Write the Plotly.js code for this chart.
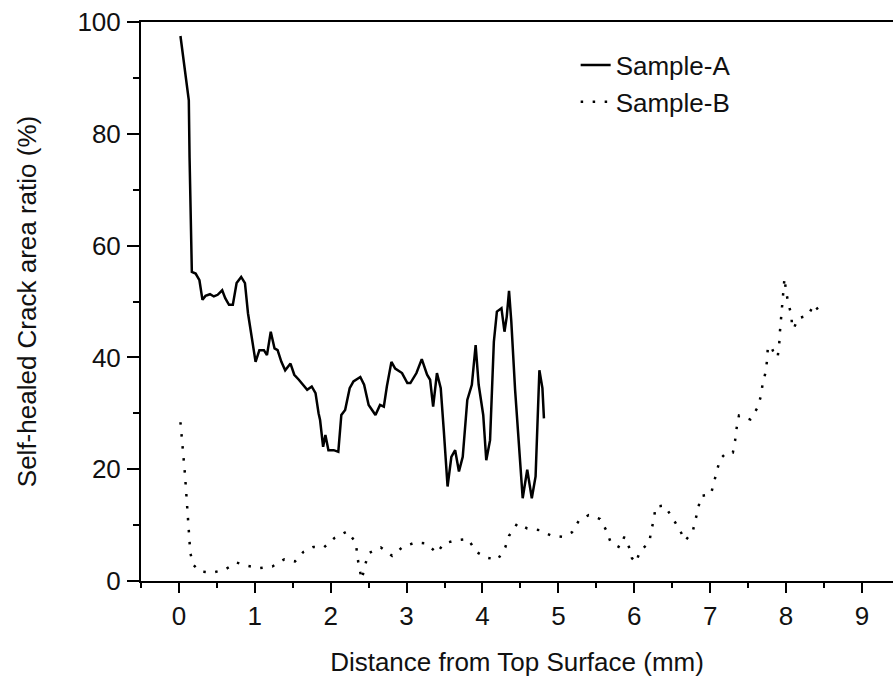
<!DOCTYPE html>
<html>
<head>
<meta charset="utf-8">
<script src="https://cdn.plot.ly/plotly-3.0.1.min.js"></script>
<style>html,body{margin:0;padding:0;background:#fff;}#chart{width:893px;height:682px;}</style>
</head>
<body>
<div id="chart"></div>
<script>
// Sample-A (solid)
const xA = [0.02,0.09,0.13,0.14,0.15,0.16,0.17,0.22,0.27,0.31,0.35,0.41,0.46,0.51,0.57,0.61,0.66,0.71,0.76,0.82,
  0.87,0.91,0.95,1.01,1.06,1.12,1.16,1.21,1.26,1.30,1.35,1.40,1.47,1.52,1.58,1.64,1.69,1.75,1.80,1.84,
  1.86,1.90,1.93,1.97,2.04,2.10,2.14,2.19,2.25,2.30,2.39,2.44,2.50,2.59,2.65,2.70,2.74,2.80,2.85,2.94,
  3.01,3.05,3.13,3.20,3.27,3.31,3.35,3.40,3.45,3.49,3.54,3.59,3.64,3.69,3.74,3.80,3.86,3.91,3.95,4.01,
  4.05,4.10,4.15,4.19,4.25,4.29,4.32,4.35,4.38,4.43,4.49,4.53,4.59,4.65,4.70,4.73,4.75,4.79,4.81];
const yA = [97.5,90.3,86,75.7,68,61.5,55.3,55,53.8,50.3,51,51.3,50.9,51.2,52,50.6,49.4,49.4,53.3,54.4,
  53.3,47.9,44.3,39.2,41.3,41.3,40.4,44.6,41.6,41.3,39.2,37.7,38.9,36.9,36,35.1,34.2,34.8,33.6,30,
  28.8,24,26.1,23.4,23.4,23.1,29.7,30.6,34.5,35.7,36.5,35.1,31.5,29.7,31.5,31.2,34.8,39.2,38,37.2,
  35.4,35.4,37.2,39.7,36.9,36,31.2,37.2,34.5,27,16.9,22.2,23.4,19.6,22.2,32.4,35.1,42.2,35.1,29.7,
  21.6,25.2,42.8,48.2,48.8,44.6,47.3,51.9,46.4,34.2,21.6,14.8,19.9,14.8,18.7,30.6,37.7,34.5,29.1];

// Sample-B (dotted)
const xB = [0.02,0.08,0.12,0.15,0.19,0.28,0.44,0.60,0.76,0.91,1.06,1.23,1.39,1.53,1.64,1.77,1.91,2.05,2.22,2.33,
  2.35,2.37,2.41,2.45,2.50,2.66,2.81,2.95,3.12,3.26,3.40,3.49,3.65,3.81,3.92,4.05,4.20,4.30,4.35,4.46,
  4.59,4.75,4.91,5.05,5.18,5.27,5.40,5.55,5.63,5.69,5.81,5.87,5.93,5.97,6.02,6.08,6.20,6.22,6.26,6.28,
  6.40,6.49,6.59,6.67,6.77,6.81,6.85,6.88,7.01,7.05,7.10,7.13,7.22,7.30,7.33,7.35,7.38,7.53,7.62,7.67,
  7.69,7.73,7.75,7.76,7.80,7.86,7.89,7.91,7.92,7.93,7.95,7.96,7.97,7.98,8.00,8.03,8.07,8.08,8.10,8.16,
  8.29,8.37,8.45];
const yB = [28.4,19,11,5,2.9,1.7,1.5,2,3.3,2.7,2.3,2.6,3.9,3.5,5.2,6.1,6,7.7,8.9,6.9,
  4.7,2.7,0.3,2.7,5,6,4.5,6.1,6.9,6.7,5,6.7,7.3,7.5,5.2,4.2,3.8,6,8.1,10.3,
  9.4,9.1,8.1,7.9,8.7,10.8,11.8,11.1,9.1,6.9,6,7.9,6.1,4.1,3.3,5.4,6.9,8.8,11.1,13.3,
  13.5,11.5,9.4,7.2,8.8,11.1,13.3,15.2,15.5,17.7,19.9,21.8,23,23,25.2,27.4,29.6,28.9,30.9,33.1,
  35.1,37.3,39.4,41.6,42.1,40.1,40.1,42.3,44.6,46.5,48.7,50.9,53.1,54.2,51.9,49.7,47.6,45.6,45.1,47,
  47.5,49.5,48];

const names = ["Sample-A", "Sample-B"];
const xTitle = "Distance from Top Surface (mm)";
const yTitle = "Self-healed Crack area ratio (%)";
const xTicks = [0,1,2,3,4,5,6,7,8,9];
const yTicks = [0,20,40,60,80,100];

const FONT = "Arial, 'Liberation Sans', sans-serif";
const TXT = "#111";

const traces = [
  {x: xA, y: yA, name: names[0], type: "scatter", mode: "lines",
   line: {color: "#000", width: 2.5}},
  {x: xB, y: yB, name: names[1], type: "scatter", mode: "lines",
   line: {color: "#000", width: 2.5, dash: "2.5px,9.5px"}}
];

const layout = {
  width: 893, height: 682,
  margin: {l: 141, r: 0, t: 22, b: 101},
  paper_bgcolor: "#fff", plot_bgcolor: "#fff",
  font: {family: FONT, color: TXT, size: 26},
  showlegend: true,
  legend: {x: 0.578, y: 0.965, xanchor: "left", yanchor: "top", tracegroupgap: 0,
    bgcolor: "rgba(0,0,0,0)", font: {family: FONT, size: 26, color: TXT}},
  xaxis: {
    range: [-0.5, 9.41], tickmode: "array", tickvals: xTicks, ticktext: xTicks.map(String),
    showgrid: false, zeroline: false, showline: true, linecolor: "#000", linewidth: 2,
    mirror: true, ticks: "outside", ticklen: 10, tickwidth: 2, tickcolor: "#000",
    ticklabelstandoff: 1,
    minor: {dtick: 0.5, tick0: 0, ticks: "outside", ticklen: 5, tickwidth: 2, tickcolor: "#000", showgrid: false},
    tickfont: {family: FONT, size: 26, color: TXT},
    title: {text: xTitle, font: {family: FONT, size: 26, color: TXT}, standoff: 23}
  },
  yaxis: {
    range: [0, 100], tickmode: "array", tickvals: yTicks, ticktext: yTicks.map(String),
    showgrid: false, zeroline: false, showline: true, linecolor: "#000", linewidth: 2,
    mirror: false, ticks: "outside", ticklen: 12, tickwidth: 2, tickcolor: "#000",
    ticklabelstandoff: 1,
    minor: {dtick: 10, tick0: 0, ticks: "outside", ticklen: 6, tickwidth: 2, tickcolor: "#000", showgrid: false},
    tickfont: {family: FONT, size: 26, color: TXT},
    title: {text: yTitle, font: {family: FONT, size: 26, color: TXT}, standoff: 33}
  }
};

Plotly.newPlot("chart", traces, layout, {displayModeBar: false, staticPlot: true});
</script>
</body>
</html>
